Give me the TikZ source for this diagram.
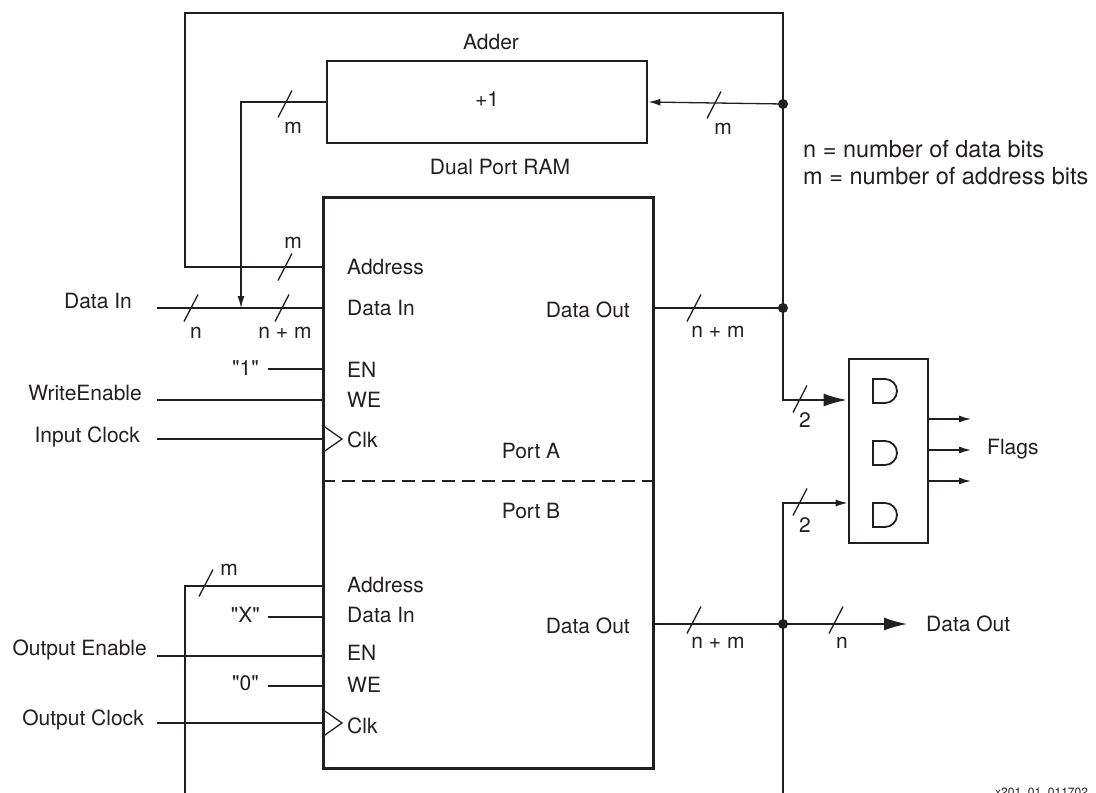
\documentclass[tikz,border=0pt]{standalone}
\usepackage{fontspec}
\setmainfont{TeX Gyre Heros}[Ligatures=TeXOff]
\usetikzlibrary{arrows.meta}
\definecolor{ink}{RGB}{35,31,32}
\newcommand\busmark[1]{\draw[wire,shift={(#1)}] (-7,13.5) -- (7,-13.5);}

\begin{document}
\begin{tikzpicture}[x=1bp,y=-1bp,inner sep=0pt,color=ink,
  font=\fontsize{21bp}{24bp}\selectfont,
  wire/.style={line width=1.3bp},
  bus/.style={line width=2.8bp},
  box/.style={draw,line width=2.8bp},
  gate/.style={line width=1.8bp},
  keytext/.style={anchor=base west,font=\fontsize{23.5bp}{26bp}\selectfont},
  tip/.style={-{Latex[length=12bp,width=7bp]}},
  bigtip/.style={-{Latex[length=24bp,width=13bp]}},
  dot/.style={fill,circle,minimum size=10bp}]
\useasboundingbox (0,0) rectangle (1096,793);

% blocks
\node[box,anchor=north west,minimum width=330bp,minimum height=571bp] (ram) at (322,196) {};
\node[box,minimum width=320bp,minimum height=82bp] (adder) at (487,102) {};
\node[box,minimum width=79bp,minimum height=184bp] (flags) at (888.5,451) {};
\node[anchor=base] (plus) at (487,107) {+1};
\node[anchor=base] (adderlbl) at (491,50) {Adder};
\node[anchor=base] (ramlbl) at (500,174) {Dual Port RAM};
\node[keytext] (key1) at (803,157) {n = number of data bits};
\node[keytext] (key2) at (803,184) {m = number of address bits};

% port split
\coordinate (split) at (487,481);
\draw[wire,dash pattern=on 13bp off 7bp] (ram.west |- split) -- (ram.east |- split);
\node[anchor=base] (portA) at (531,458) {Port A};
\node[anchor=base] (portB) at (531,518) {Port B};

% pins
\coordinate (aAddr) at (322,267);
\coordinate (aDin) at (322,308);
\coordinate (aEn) at (322,369);
\coordinate (aWe) at (322,400);
\coordinate (aClk) at (322,439);
\coordinate (aDout) at (652,308);
\coordinate (bAddr) at (322,586);
\coordinate (bDin) at (322,617);
\coordinate (bEn) at (322,656);
\coordinate (bWe) at (322,686);
\coordinate (bClk) at (322,723);
\coordinate (bDout) at (652,624);

\node[anchor=base west] (tAaddr) at (347,274) {Address};
\node[anchor=base west] (tAdin) at (347,315) {Data In};
\node[anchor=base west] (tAen) at (347,377) {EN};
\node[anchor=base west] (tAwe) at (347,407) {WE};
\node[anchor=base west] (tAclk) at (347,447) {Clk};
\node[anchor=base east] (tAdout) at (630,317) {Data Out};
\node[anchor=base west] (tBaddr) at (347,592) {Address};
\node[anchor=base west] (tBdin) at (347,622) {Data In};
\node[anchor=base west] (tBen) at (347,660) {EN};
\node[anchor=base west] (tBwe) at (347,692) {WE};
\node[anchor=base west] (tBclk) at (347,733) {Clk};
\node[anchor=base east] (tBdout) at (630,633) {Data Out};

\draw[wire] (aClk) ++(0,-14) -- ++(20,14) -- ++(-20,14);
\draw[wire] (bClk) ++(0,-14) -- ++(20,14) -- ++(-20,14);

% inputs
\node[anchor=base east] (inData) at (132,308) {Data In};
\node[anchor=base east] (inOne) at (259,375) {"1"};
\node[anchor=base east] (inWe) at (142,400) {WriteEnable};
\node[anchor=base east] (inClkA) at (140,442) {Input Clock};
\node[anchor=base east] (inX) at (260,622) {"X"};
\node[anchor=base east] (inOe) at (147,655) {Output Enable};
\node[anchor=base east] (inZero) at (259,690) {"0"};
\node[anchor=base east] (inClkB) at (144,725) {Output Clock};

\coordinate (dinStart) at (157,308);
\coordinate (enAStart) at (268,369);
\coordinate (weStart) at (157,400);
\coordinate (clkAStart) at (157,439);
\coordinate (dinBStart) at (268,617);
\coordinate (oeStart) at (157,656);
\coordinate (weBStart) at (268,686);
\coordinate (clkBStart) at (157,723);

\draw[wire] (dinStart) -- (aDin);
\draw[wire] (enAStart) -- (aEn);
\draw[wire] (weStart) -- (aWe);
\draw[wire] (clkAStart) -- (aClk);
\draw[wire] (dinBStart) -- (bDin);
\draw[wire] (oeStart) -- (bEn);
\draw[wire] (weBStart) -- (bWe);
\draw[wire] (clkBStart) -- (bClk);

% address loop
\coordinate (loopTL) at (185,13);
\coordinate (loopTR) at (783,13);
\coordinate (jtop) at (783,104);
\coordinate (jmid) at (783,308);
\coordinate (bend1) at (783,400);
\coordinate (bend2) at (783,503);
\coordinate (jbot) at (783,624);
\coordinate (lowEnd) at (783,793);
\coordinate (merge) at (241,308);
\coordinate (addrBEnd) at (185,793);
\coordinate (doutEnd) at (908,624);

\draw[bus,bigtip] (aAddr) -| (loopTL) -- (loopTR) -- (bend1) -- (flags.west |- bend1);
\draw[wire,tip] (jtop) -- (adder.east);
\draw[wire,tip] (adder.west) -| (merge);
\draw[wire] (aDout) -- (jmid);
\draw[bus,bigtip] (bDout) -- (doutEnd);
\draw[wire,tip] (lowEnd) |- (flags.west |- bend2);
\draw[wire] (bAddr) -| (addrBEnd);
\node[dot] (dtop) at (jtop) {};
\node[dot] (dmid) at (jmid) {};
\node[dot] (dbot) at (jbot) {};

% bus widths
\busmark{285,104}
\busmark{285,267}
\busmark{191,308}
\busmark{282,308}
\busmark{714,105}
\busmark{694,308}
\busmark{800,399}
\busmark{800,502}
\busmark{694,620}
\busmark{836,620}
\busmark{206,583}
\node[anchor=base] (wAdd) at (293,133) {m};
\node[anchor=base] (wAddr) at (293,248) {m};
\node[anchor=base] (wDin) at (196,338) {n};
\node[anchor=base] (wMerge) at (285,338) {n + m};
\node[anchor=base] (wInc) at (723,134) {m};
\node[anchor=base] (wAout) at (718,337) {n + m};
\node[anchor=base] (wF1) at (805,427) {2};
\node[anchor=base] (wF2) at (805,532) {2};
\node[anchor=base] (wBout) at (718,648) {n + m};
\node[anchor=base] (wOut) at (842,648) {n};
\node[anchor=base] (wBaddr) at (229,575) {m};

% flag logic
\draw[gate] (873,379) -- (885,379) arc (-90:90:12) -- (873,403) -- cycle;
\draw[gate] (873,441) -- (885,441) arc (-90:90:12) -- (873,465) -- cycle;
\draw[gate] (873,503) -- (885,503) arc (-90:90:12) -- (873,527) -- cycle;
\coordinate (f1) at (971,419);
\coordinate (f2) at (971,450);
\coordinate (f3) at (971,481);
\draw[wire,tip] (flags.east |- f1) -- (f1);
\draw[wire,tip] (flags.east |- f2) -- (f2);
\draw[wire,tip] (flags.east |- f3) -- (f3);
\node[anchor=base west] (flagslbl) at (987,454) {Flags};
\node[anchor=base west] (doutlbl) at (926,631) {Data Out};

\node[anchor=north west,font=\fontsize{12bp}{14bp}\selectfont] (figid) at (995,788) {x201\_01\_011702};
\end{tikzpicture}
\end{document}
